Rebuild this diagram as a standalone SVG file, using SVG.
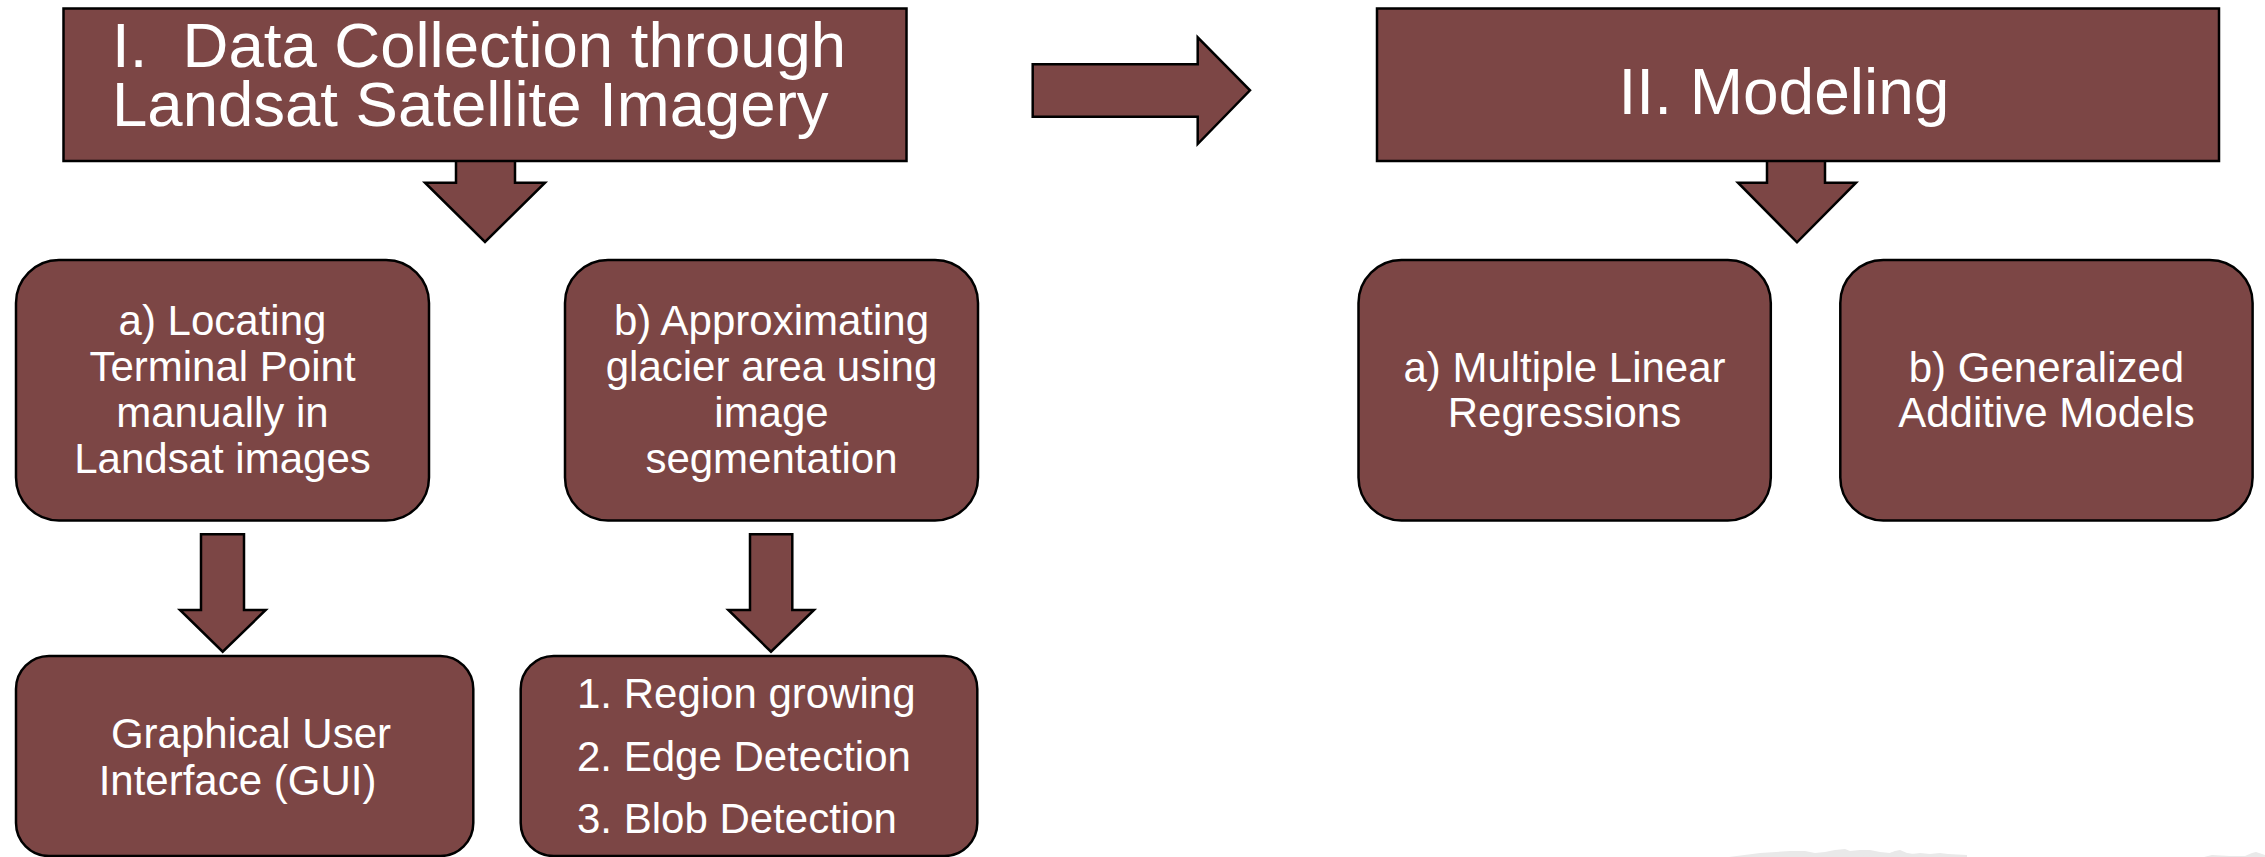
<svg xmlns="http://www.w3.org/2000/svg" width="2265" height="857" viewBox="0 0 2265 857">
<style>
.box{fill:#7C4645;stroke:#000;stroke-width:2.5}
.arr{fill:#7C4645;stroke:#000;stroke-width:2.5;stroke-linejoin:miter}
.t{font-family:"Liberation Sans",Arial,sans-serif;fill:#fff}
.big{font-size:63.5px;white-space:pre}
.mid{font-size:42px}
.c{text-anchor:middle}
.mtn{fill:#e9e9e9}
</style>
<rect width="2265" height="857" fill="#fff"/>
<g id="background">
<path class="mtn" d="M1729,857 L1760,853 L1790,851 L1805,851 L1815,853 L1825,852 L1835,850 L1845,849 L1850,851 L1860,850 L1870,850 L1880,852 L1890,853 L1897,851 L1901,853 L1915,854 L1930,854 L1930,857 Z"/>
<path class="mtn" d="M1850,857 L1856,856 L1860,855 L1868,856 L1878,854 L1890,853 L1895,851 L1900,850 L1907,853 L1912,854 L1920,853 L1930,854 L1940,853 L1948,854 L1967,855 L1967,857 Z"/>
<path class="mtn" d="M2204,857 L2212,855 L2230,856 L2245,856 L2252,853 L2256,852 L2262,854 L2265,855 L2265,857 Z"/>
</g>
<g id="connectors">
<path class="arr" d="M456,158 V182.7 H425 L485,242 L545,182.7 H515 V158"/>
<path class="arr" d="M1767,158 V182.7 H1738 L1797,242.3 L1856,182.7 H1825 V158"/>
<path class="arr" d="M1032.7,64.3 H1197.7 V37.3 L1250,90.3 L1197.7,144 V116.7 H1032.7 Z"/>
<path class="arr" d="M201,534.3 H244 V610 H265.7 L222.7,651.7 L180,610 H201 Z"/>
<path class="arr" d="M750,534.3 H792.3 V610 H814 L771,651.7 L728.3,610 H750 Z"/>
</g>
<g id="node-data-collection">
<rect class="box" x="63.5" y="8.5" width="843" height="152.5"/>
<text class="t big" x="112" y="67" xml:space="preserve">I.  Data Collection through</text>
<text class="t big" x="112" y="126">Landsat Satellite Imagery</text>
</g>
<g id="node-modeling">
<rect class="box" x="1377" y="8.5" width="842" height="152.5"/>
<text class="t big c" x="1784" y="114.3" style="font-size:64px">II. Modeling</text>
</g>
<g id="node-locating">
<rect class="box" x="16" y="260" width="413" height="260.5" rx="43" ry="43"/>
<text class="t mid c" x="222.5" y="335">a) Locating</text>
<text class="t mid c" x="222.5" y="381">Terminal Point</text>
<text class="t mid c" x="222.5" y="427">manually in</text>
<text class="t mid c" x="222.5" y="473">Landsat images</text>
</g>
<g id="node-approximating">
<rect class="box" x="565" y="260" width="413" height="260.5" rx="43" ry="43"/>
<text class="t mid c" x="771.5" y="335">b) Approximating</text>
<text class="t mid c" x="771.5" y="381">glacier area using</text>
<text class="t mid c" x="771.5" y="427">image</text>
<text class="t mid c" x="771.5" y="473">segmentation</text>
</g>
<g id="node-gui">
<rect class="box" x="16" y="656" width="457.3" height="200" rx="33" ry="33"/>
<text class="t mid c" x="251" y="748.3">Graphical User</text>
<text class="t mid c" x="237.5" y="795">Interface (GUI)</text>
</g>
<g id="node-segmentation-methods">
<rect class="box" x="520.7" y="656" width="456.6" height="200" rx="33" ry="33"/>
<text class="t mid" x="577" y="708.3">1. Region growing</text>
<text class="t mid" x="577" y="770.7">2. Edge Detection</text>
<text class="t mid" x="577" y="833.3">3. Blob Detection</text>
</g>
<g id="node-mlr">
<rect class="box" x="1358.5" y="260" width="412.3" height="260.5" rx="43" ry="43"/>
<text class="t mid c" x="1564.5" y="381.5">a) Multiple Linear</text>
<text class="t mid c" x="1564.5" y="427.3">Regressions</text>
</g>
<g id="node-gam">
<rect class="box" x="1840.3" y="260" width="412.3" height="260.5" rx="43" ry="43"/>
<text class="t mid c" x="2046.5" y="381.5">b) Generalized</text>
<text class="t mid c" x="2046.5" y="427.3">Additive Models</text>
</g>
</svg>
